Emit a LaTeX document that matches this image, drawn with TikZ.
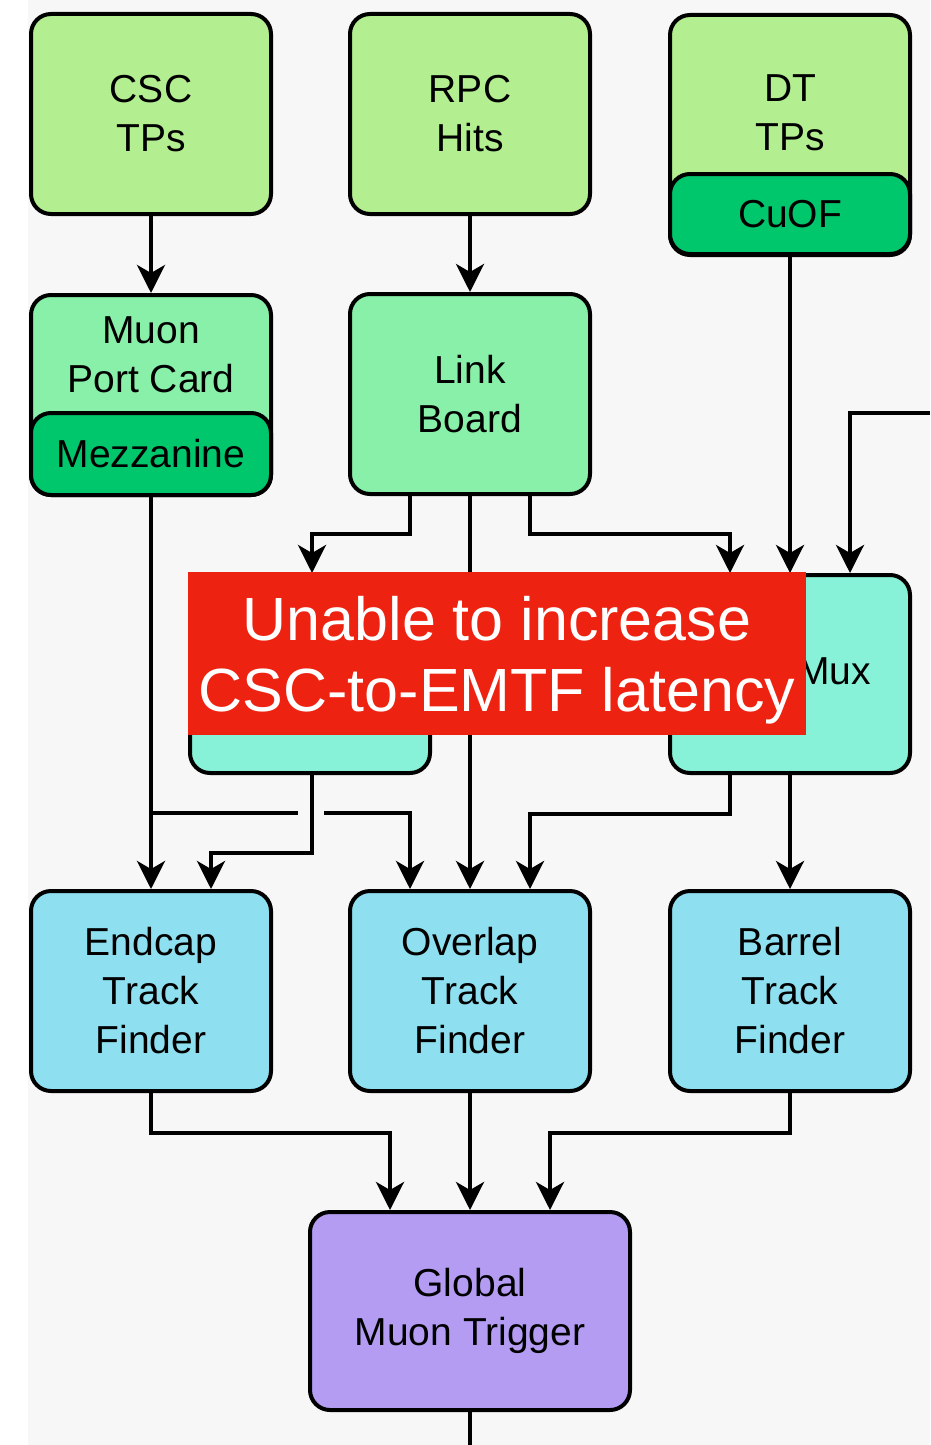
\documentclass[tikz,border=0pt]{standalone}
\usepackage{fontspec}
\setmainfont{Liberation Sans}
\usetikzlibrary{arrows.meta}

\definecolor{tpgreen}{HTML}{B3EF90}
\definecolor{cardgreen}{HTML}{88F0A8}
\definecolor{mezzgreen}{HTML}{00C66C}
\definecolor{muxcyan}{HTML}{88F2D8}
\definecolor{tfblue}{HTML}{8EE0F0}
\definecolor{gmtpurple}{HTML}{B39CF2}
\definecolor{bannerred}{HTML}{EE2211}
\definecolor{bggray}{HTML}{F7F7F7}

\tikzset{
  box/.style={draw, line width=4pt, rounded corners=20pt, minimum width=240pt,
    minimum height=200pt, align=center, font=\fontsize{39}{49}\selectfont},
  boxtext/.style={align=center, font=\fontsize{39}{49}\selectfont},
  wire/.style={line width=4pt},
  flow/.style={wire, -{Stealth[length=28pt, width=28pt, inset=8pt]}},
  banner/.style={fill=bannerred, text=white, minimum width=618pt, minimum height=163pt,
    inner sep=0pt, text depth=0pt, align=center, font=\fontsize{61}{71}\selectfont}
}

\begin{document}
\begin{tikzpicture}[x=1pt, y=-1pt]
    \useasboundingbox (0,0) rectangle (930,1445);
    \fill[white] (0,0) rectangle (930,1445);
    \fill[bggray] (28,0) rectangle (930,1445);

    % sources
    \node[box, fill=tpgreen] (csc) at (151,114) {CSC\\TPs};
    \node[box, fill=tpgreen] (rpc) at (470,114) {RPC\\Hits};
    \node[box, fill=tpgreen, minimum height=240pt] (dt) at (790,135) {};
    \node[boxtext] (dttext) at (790,113) {DT\\TPs};
    \node[box, fill=mezzgreen, minimum height=80pt] (cuof) at (790,214) {CuOF};

    % cards
    \node[box, fill=cardgreen] (mpc) at (151,395) {};
    \node[boxtext] (mpctext) at (151,355) {Muon\\Port Card};
    \node[box, fill=mezzgreen, minimum height=82pt] (mezz) at (151,454) {Mezzanine};
    \node[box, fill=cardgreen] (link) at (470,394) {Link\\Board};

    % concentrators
    \node[box, fill=muxcyan, minimum height=198pt] (lmux) at (310,674) {};
    \node[box, fill=muxcyan, minimum height=198pt] (rmux) at (790,674) {};
    \node[boxtext] (muxtext) at (834,671) {Mux};

    % track finders
    \node[box, fill=tfblue] (etf) at (151,991) {Endcap\\Track\\Finder};
    \node[box, fill=tfblue] (otf) at (470,991) {Overlap\\Track\\Finder};
    \node[box, fill=tfblue] (btf) at (790,991) {Barrel\\Track\\Finder};

    \node[box, fill=gmtpurple, minimum width=320pt, minimum height=198pt] (gmt) at (470,1311) {Global\\Muon Trigger};

    \coordinate (east in) at (930,413);
    \coordinate (hop l) at (298,813);
    \coordinate (hop r) at (324,813);
    \coordinate (out) at (470,1445);

    \draw[flow] (csc) -- (mpc);
    \draw[flow] (rpc) -- (link);
    \draw[flow] (cuof) -- (rmux);
    \draw[flow] (east in) -| ([xshift=60pt]rmux.north);
    \draw[flow] ([xshift=-60pt]link.south) -- ++(0,38) -| ([xshift=2pt]lmux.north);
    \draw[flow] ([xshift=60pt]link.south) -- ++(0,38) -| ([xshift=-60pt]rmux.north);
    \draw[flow] (link) -- (otf);
    \draw[flow] (mezz) -- (etf);
    \draw[wire] (mezz.south |- hop l) -- (hop l);
    \draw[flow] (hop r) -| ([xshift=-60pt]otf.north);
    \draw[flow] ([xshift=2pt]lmux.south) -- ++(0,78) -| ([xshift=60pt]etf.north);
    \draw[flow] ([xshift=-60pt]rmux.south) -- ++(0,39) -| ([xshift=60pt]otf.north);
    \draw[flow] (rmux) -- (btf);
    \draw[flow] (etf.south) -- ++(0,40) -| ([xshift=-80pt]gmt.north);
    \draw[flow] (otf) -- (gmt);
    \draw[flow] (btf.south) -- ++(0,40) -| ([xshift=80pt]gmt.north);
    \draw[wire] (gmt) -- (out);

    \node[banner] (note) at (497,653.5) {Unable to increase\\CSC-to-EMTF latency};
\end{tikzpicture}
\end{document}
